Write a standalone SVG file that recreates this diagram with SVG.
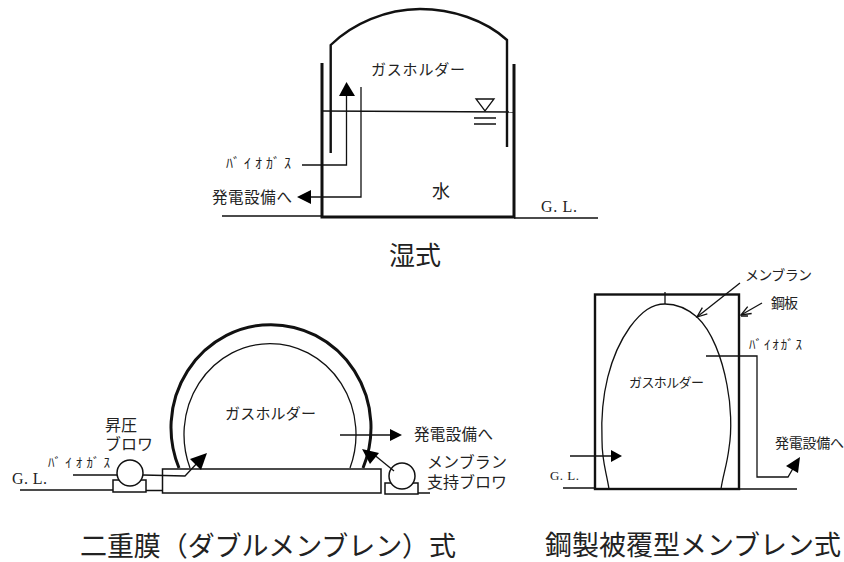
<svg xmlns="http://www.w3.org/2000/svg" width="844" height="562" viewBox="0 0 844 562">
<style>
text{font-family:"Liberation Sans","Noto Sans CJK JP",sans-serif;fill:#222;font-weight:400}
.gl{font-family:"Liberation Serif",serif;font-size:16px}
.s{fill:none;stroke:#111;stroke-width:1.3}
.m{fill:none;stroke:#111;stroke-width:2}
.b{fill:none;stroke:#111;stroke-width:3}
.w{fill:#fff;stroke:#111;stroke-width:1.5}
.h{fill:#000;stroke:none}
</style>
<defs>
<marker id="open" markerWidth="14" markerHeight="12" refX="11" refY="5" orient="auto" markerUnits="userSpaceOnUse"><path d="M1 1L11 5L1 9" fill="none" stroke="#111" stroke-width="1.3"/></marker>
</defs>
<rect width="844" height="562" fill="#fff"/>
<g id="wet-tank">
<path class="b" d="M322 63V217H514V64" stroke-linejoin="miter"/>
<path class="b" style="stroke-width:2.4" d="M330.7 153V45C352 24 386 9 420 9C452 9 485 20 507 40V147"/>
<path class="s" d="M322 111L514 112"/>
<path class="s" d="M476 99H494L485 111Z"/>
<path class="s" d="M474 118H496M474 124H496"/>
<text x="371" y="75" font-size="15" textLength="94">ガスホルダー</text>
<text x="432" y="198" font-size="18">水</text>
<text class="gl" x="541" y="212" textLength="36">G. L.</text>
<text x="389" y="265" font-size="26">湿式</text>
</g>
<g id="membrane-dome">
<rect class="w" x="162.500" y="469" width="218.500" height="24"/>
<path class="b" d="M179 468A100 103 0 1 1 363 468"/>
<path class="s" d="M190 468A86 91 0 1 1 350 468"/>
<text x="225" y="419" font-size="15" textLength="91">ガスホルダー</text>
<text class="gl" x="12" y="484" textLength="35">G. L.</text>
<text x="105" y="431" font-size="16">昇圧</text>
<text x="105" y="450" font-size="16" textLength="48">ブロワ</text>
<text x="80" y="556" font-size="27" textLength="376">二重膜（ダブルメンブレン）式</text>
</g>
<g id="booster-blower">
<rect class="w" x="113" y="480" width="33" height="12"/>
<circle class="w" cx="130" cy="473" r="13"/>
</g>
<g id="support-blower">
<rect class="w" x="385" y="483" width="33" height="11"/>
<circle class="w" cx="402" cy="476" r="13"/>
<text x="427" y="468" font-size="16" textLength="80">メンブラン</text>
<text x="427" y="488" font-size="16" textLength="80">支持ブロワ</text>
</g>
<g id="steel-membrane">
<rect class="b" x="595" y="294.500" width="144" height="194.500" style="stroke-width:2.400"/>
<path class="s" d="M609 489C606 470 602 462 602 440C600 395 610 355 630 327C642 311 652 304 665 304C680 304 690 311 697 317C712 331 722 358 727 385C731 405 732 430 729 448C727 465 723 475 721 489"/>
<path class="s" d="M665 292V304M741 316H748"/>
<text x="629" y="387" font-size="13" textLength="75">ガスホルダー</text>
<text x="771" y="308" font-size="14" textLength="27">鋼板</text>
<text x="745" y="280" font-size="14" textLength="67">メンブラン</text>
<text class="gl" style="font-size:13px" x="550" y="480" textLength="29">G. L.</text>
<text x="545" y="555" font-size="27" textLength="296">鋼製被覆型メンブレン式</text>
</g>
<g id="connectors">
<path class="s" d="M302 165H346.500V95"/>
<path class="h" d="M346.500 82L339 96H355Z"/>
<path class="s" d="M361 87V197H310"/>
<path class="h" d="M297 197L311 190V204Z"/>
<path class="s" d="M222 216H322M514 218H598"/>
<path class="s" d="M73 475H117M143 475L185 476L200 460"/>
<path class="h" d="M207 453L190 459L201 470Z"/>
<path class="s" d="M20 490H113M146 490.500H162M418 493H430"/>
<path class="s" d="M340 435H390"/>
<path class="h" d="M402 435L390 429V441Z"/>
<path class="s" d="M394 471L372 453"/>
<path class="h" d="M362 449L379 453L370 464Z"/>
<path class="s" d="M740 283L697 317" marker-end="url(#open)"/>
<path class="s" d="M762 303L741 315" marker-end="url(#open)"/>
<path class="s" d="M706 356H757V477H788L795 465"/>
<path class="h" d="M800 457L786 466L798 473Z"/>
<path class="s" d="M563 488H595M739 489H797"/>
<path class="s" d="M570 456H612"/>
<path class="h" d="M622 456L611 450V462Z"/>
</g>
<g id="labels">
<text x="226" y="168" font-size="14" textLength="65">ﾊﾞｲｵｶﾞｽ</text>
<text x="212" y="203" font-size="15.500" textLength="80">発電設備へ</text>
<text x="48" y="467" font-size="13" textLength="62">ﾊﾞｲｵｶﾞｽ</text>
<text x="414" y="440" font-size="15.500" textLength="79">発電設備へ</text>
<text x="749" y="349" font-size="13" textLength="53">ﾊﾞｲｵｶﾞｽ</text>
<text x="775" y="448" font-size="14" textLength="69">発電設備へ</text>
</g>
</svg>
